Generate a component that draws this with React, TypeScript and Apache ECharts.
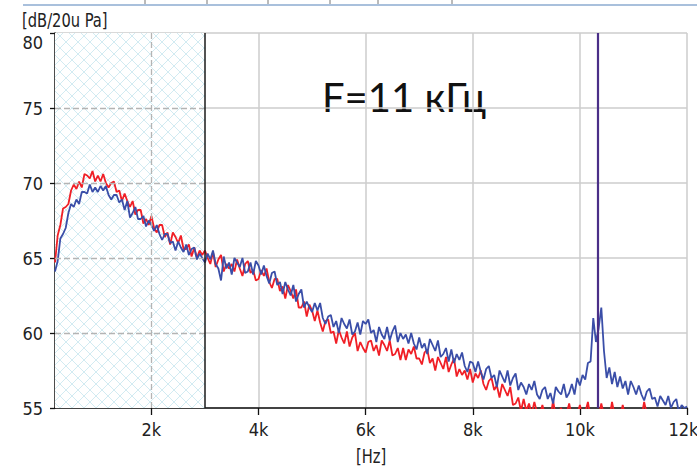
import React, { useEffect, useRef } from "react";
import * as echarts from "echarts";

// Sampling of the spectra (Hz)
const FREQ_START = 200;
const FREQ_STEP = 50;

// Red spectrum, dB re 20 uPa, 200 Hz .. 12 kHz every 50 Hz
const RED_DB = [
  64.7, 66.5, 67.2, 68.3, 68.4, 68.6, 69.5, 69.9, 69.6, 70.1, 69.7, 70.6, 70.5, 70.3, 70.8, 70.1,
  70.5, 70.1, 70.6, 70.0, 69.7, 70.0, 70.1, 69.4, 69.5, 68.8, 69.3, 68.8, 68.4, 68.8, 67.9, 68.2, 68.2, 67.3, 67.6, 67.2,
  67.8, 67.0, 66.7, 67.2, 67.2, 66.4, 66.7, 65.9, 66.7, 66.4, 66.0, 66.5, 65.6, 65.6, 65.9, 65.1, 65.7, 65.0, 65.5, 65.2,
  65.5, 65.0, 64.6, 65.4, 64.4, 64.9, 65.2, 64.1, 64.6, 64.3, 64.6, 64.1, 64.9, 64.3, 63.8, 64.6, 64.8, 64.0, 64.2, 63.5,
  63.6, 64.2, 63.8, 64.3, 63.4, 63.0, 63.6, 63.6, 62.8, 63.1, 62.3, 63.2, 62.8, 62.3, 62.9, 61.7, 61.7, 62.1, 61.1, 61.9,
  61.5, 60.8, 61.5, 60.7, 60.1, 60.8, 60.9, 60.0, 60.1, 59.3, 60.2, 59.7, 59.3, 60.1, 59.1, 59.7, 60.0, 58.8, 59.4, 59.0,
  58.7, 59.4, 59.5, 58.8, 59.2, 58.5, 59.5, 59.2, 58.8, 59.5, 58.5, 58.6, 59.0, 58.2, 59.0, 58.2, 58.9, 58.6, 59.1, 58.3,
  58.3, 57.9, 58.7, 58.9, 58.0, 58.3, 57.5, 58.4, 58.0, 57.6, 58.4, 57.4, 57.9, 58.3, 57.1, 57.6, 57.2, 57.5, 56.9, 57.6,
  56.7, 57.3, 57.0, 57.5, 56.6, 56.2, 56.8, 57.0, 56.2, 56.5, 55.7, 56.6, 56.2, 55.8, 56.4, 55.2, 55.3, 55.7, 54.8, 55.6,
  54.8, 55.3, 54.6, 55.4, 54.7, 54.5, 55.2, 54.5, 54.8, 54.3, 55.5, 54.4, 54.7, 55.0, 54.3, 54.6, 55.3, 54.4, 54.8, 54.5,
  55.2, 54.4, 54.7, 55.4, 54.3, 54.6, 54.9, 54.4, 55.3, 54.5, 54.8, 54.3, 55.4, 54.5, 54.6, 54.4, 55.2, 54.3, 54.6, 54.4,
  54.5, 54.3, 54.7, 54.4, 55.4, 54.6, 54.4, 54.3, 54.5, 54.3, 54.4, 54.6, 54.3, 54.4, 54.3, 54.5, 54.3, 54.4, 54.3, 54.4,
  54.3,
];

// Blue spectrum, dB re 20 uPa, 200 Hz .. 12 kHz every 50 Hz
const BLUE_DB = [
  64.1, 64.8, 66.3, 66.6, 67.0, 68.0, 68.6, 68.4, 68.9, 68.6, 69.4, 69.4, 69.3, 69.9, 69.4, 69.7,
  69.4, 69.8, 69.5, 69.8, 69.2, 68.9, 69.2, 69.2, 68.7, 68.9, 68.2, 68.8, 67.7, 68.0, 68.4, 67.6, 67.6, 67.8, 67.1, 67.5,
  67.2, 66.8, 67.2, 66.6, 66.2, 66.6, 66.6, 66.0, 66.1, 65.5, 66.1, 65.7, 65.4, 65.9, 65.2, 65.6, 65.7, 64.9, 65.3, 65.0,
  64.7, 65.3, 64.9, 65.5, 64.6, 64.3, 63.5, 65.1, 64.3, 64.7, 63.9, 65.0, 64.7, 64.4, 65.0, 64.0, 64.1, 64.7, 63.9, 64.8,
  64.5, 63.9, 64.5, 63.8, 63.3, 64.0, 64.1, 63.2, 63.4, 62.6, 63.4, 62.9, 62.5, 63.2, 62.1, 62.6, 62.9, 61.7, 62.1, 61.7,
  61.4, 62.0, 61.5, 62.0, 61.0, 60.6, 61.1, 61.2, 60.4, 60.8, 60.0, 61.0, 60.6, 60.3, 60.9, 59.9, 60.1, 60.7, 59.9, 60.8,
  60.6, 60.9, 60.0, 60.2, 59.4, 60.4, 59.9, 59.6, 60.4, 59.5, 60.1, 60.5, 59.4, 60.0, 59.6, 59.9, 59.3, 60.0, 59.3, 58.9,
  59.7, 59.0, 59.3, 58.6, 59.6, 59.2, 58.8, 59.5, 58.4, 58.6, 59.0, 58.1, 58.9, 58.0, 58.6, 58.2, 58.7, 57.8, 57.4, 58.1,
  58.0, 57.4, 58.1, 57.4, 56.9, 57.6, 57.8, 57.0, 57.2, 56.4, 57.5, 57.1, 56.7, 57.5, 56.5, 57.0, 57.3, 56.2, 56.7, 56.4,
  55.9, 56.6, 56.2, 56.8, 55.9, 55.6, 56.2, 56.4, 55.6, 56.0, 55.3, 56.4, 56.1, 55.9, 56.6, 55.7, 56.0, 56.6, 55.9, 57.0,
  56.5, 57.2, 56.9, 58.0, 58.1, 61.0, 59.4, 60.3, 61.7, 58.8, 57.0, 57.7, 56.6, 57.4, 56.4, 57.1, 56.3, 56.8, 55.9, 56.8,
  56.4, 55.9, 56.5, 55.9, 55.5, 56.1, 56.3, 55.6, 55.7, 55.1, 55.8, 55.5, 55.2, 55.8, 55.0, 55.4, 55.6, 54.7, 55.2, 55.0,
  55.1,
];

const X_MIN = 200;
const X_MAX = 12000;
const X_TICKS = [2000, 4000, 6000, 8000, 10000, 12000];
const X_TICK_LABELS = ["2k", "4k", "6k", "8k", "10k", "12k"];
const Y_MIN = 55;
const Y_MAX = 80;
const Y_STEP = 5;
const DASHED_Y = [60, 65, 70, 75];
const BAND_END = 3000;
const CURSOR_FREQ = 10330;
const Y_UNIT = "[dB/20u Pa]";
const X_UNIT = "[Hz]";
const NOTE = "F=11 кГц";

const NARROW = "'Liberation Sans Narrow', 'Arial Narrow', 'DejaVu Sans Condensed', sans-serif";

const hatchSvg =
  "<svg xmlns='http://www.w3.org/2000/svg' width='12' height='12'>" +
  "<rect width='12' height='12' fill='#ffffff'/>" +
  "<path d='M0 0L12 12M12 0L0 12' stroke='#d2ebf2' stroke-width='1'/></svg>";
const hatchUrl = "data:image/svg+xml;charset=utf-8," + encodeURIComponent(hatchSvg);

function toPairs(values: number[]) {
  return values.map((v, i) => [FREQ_START + i * FREQ_STEP, v]);
}

export default function App() {
  const ref = useRef<HTMLDivElement>(null);

  useEffect(() => {
    if (!ref.current) return;
    const chart = echarts.init(ref.current, undefined, { renderer: "svg" });

    const dashedData: any[] = DASHED_Y.map((y) => [
      { coord: [X_MIN, y] },
      { coord: [BAND_END, y] },
    ]);
    dashedData.push([{ coord: [2000, Y_MIN] }, { coord: [2000, Y_MAX] }]);

    const lastTick = X_TICKS[X_TICKS.length - 1];

    const option: any = {
      animation: false,
      backgroundColor: "#ffffff",
      grid: { left: 55, top: 33, right: 10, bottom: 61, outerBoundsMode: "none", containLabel: false },
      xAxis: {
        type: "value",
        min: X_MIN,
        max: X_MAX,
        axisLine: { show: true, onZero: false, lineStyle: { color: "#111", width: 1.5 } },
        axisTick: {
          show: true,
          customValues: X_TICKS,
          length: 7,
          lineStyle: { color: "#111", width: 1.3 },
        },
        axisLabel: {
          customValues: X_TICKS,
          formatter: (v: number) => {
            const label = X_TICK_LABELS[X_TICKS.indexOf(v)] ?? "";
            return v === lastTick ? "{last|" + label + "}" : label;
          },
          margin: 12,
          color: "#222",
          fontSize: 18,
          fontFamily: NARROW,
          rich: {
            last: { fontSize: 18, fontFamily: NARROW, color: "#222", padding: [0, 7, 0, 0] },
          },
        },
        splitLine: { show: true, lineStyle: { color: "#cccccc", width: 1.5 } },
      },
      yAxis: {
        type: "value",
        min: Y_MIN,
        max: Y_MAX,
        interval: Y_STEP,
        axisLine: { show: true, onZero: false, lineStyle: { color: "#111", width: 1.5 } },
        axisTick: { show: true, length: 5, lineStyle: { color: "#111", width: 1.3 } },
        axisLabel: {
          margin: 12,
          color: "#222",
          fontSize: 18,
          fontFamily: NARROW,
          verticalAlignMaxLabel: "top",
        },
        splitLine: { show: true, lineStyle: { color: "#cccccc", width: 1.5 } },
      },
      series: [
        {
          type: "line",
          data: [],
          z: 1,
          silent: true,
          markArea: {
            silent: true,
            itemStyle: {
              color: { image: hatchUrl, repeat: "repeat", imageWidth: 12, imageHeight: 12 },
            },
            data: [[{ xAxis: X_MIN }, { xAxis: BAND_END }]],
          },
        },
        {
          type: "line",
          data: [],
          z: 2,
          silent: true,
          markLine: {
            silent: true,
            symbol: "none",
            label: { show: false },
            lineStyle: { color: "#b4b4b4", type: [6, 3], width: 1.3 },
            data: dashedData,
          },
        },
        {
          name: "red",
          type: "line",
          data: toPairs(RED_DB),
          showSymbol: false,
          symbol: "none",
          z: 3,
          clip: true,
          lineStyle: { color: "#f01f26", width: 1.8 },
        },
        {
          name: "blue",
          type: "line",
          data: toPairs(BLUE_DB),
          showSymbol: false,
          symbol: "none",
          z: 4,
          clip: true,
          lineStyle: { color: "#3a4ea8", width: 1.8 },
        },
        {
          type: "line",
          data: [],
          z: 5,
          silent: true,
          markLine: {
            silent: true,
            symbol: "none",
            label: { show: false },
            data: [
              { xAxis: BAND_END, lineStyle: { color: "#1a1a1a", width: 1.5, type: "solid" } },
              { xAxis: CURSOR_FREQ, lineStyle: { color: "#4a2f88", width: 2.2, type: "solid" } },
            ],
          },
        },
      ],
      graphic: [
        {
          type: "line",
          shape: { x1: 23, y1: 5, x2: 697, y2: 5 },
          style: { stroke: "#a9c0dc", lineWidth: 2 },
        },
        ...[145, 207, 268, 330, 378, 452].map((x) => ({
          type: "line",
          shape: { x1: x, y1: 0, x2: x, y2: 4 },
          style: { stroke: "#777", lineWidth: 1 },
        })),
        {
          type: "text",
          x: 22,
          y: 11,
          scaleX: 0.86,
          style: { text: Y_UNIT, fontSize: 19, fontFamily: NARROW, fill: "#222" },
        },
        {
          type: "text",
          x: 356,
          y: 447,
          scaleX: 0.86,
          style: { text: X_UNIT, fontSize: 19, fontFamily: NARROW, fill: "#222" },
        },
        {
          type: "text",
          left: 322,
          top: 77,
          style: { text: NOTE, fontSize: 40, fontFamily: "Lato, 'Open Sans', sans-serif", fill: "#111" },
        },
        {
          type: "line",
          shape: { x1: 151, y1: 180, x2: 151, y2: 250 },
          style: { stroke: "#5b9bd5", lineWidth: 7 },
        },
        {
          type: "polyline",
          shape: { points: [[134, 221], [151, 251], [168, 221]] },
          style: { stroke: "#5b9bd5", lineWidth: 7, fill: "none", lineJoin: "miter" },
        },
      ],
    };

    chart.setOption(option);
    return () => chart.dispose();
  }, []);

  return (
    <div
      ref={ref}
      style={{ position: "fixed", left: 0, top: 0, width: 697, height: 469, background: "#fff" }}
    />
  );
}
